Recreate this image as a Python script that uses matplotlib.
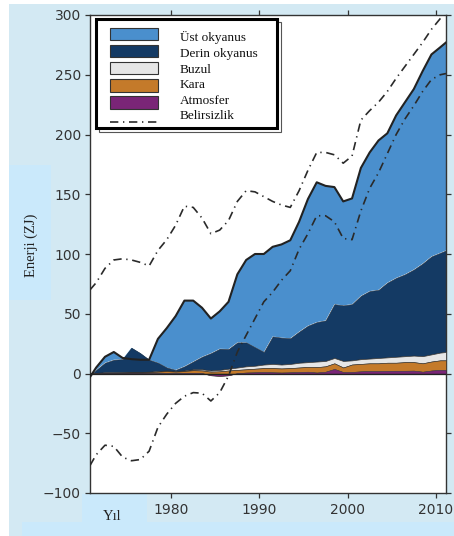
import numpy as np
import matplotlib
matplotlib.use("Agg")
import matplotlib.pyplot as plt
from matplotlib.patches import Rectangle
from matplotlib.lines import Line2D

# ---------------- data ----------------
years = [1970.8] + [y + 0.5 for y in range(1971, 2011)] + [2011.15]

atmosfer = [0, 0.1, 0.2, 0.2, 0.2, 0.3, 0.3, 0.3, 0.3, 0.3, 0.3, 0.4, 0.5, 0.3, -1.5, -2, -1.5,
            0.3, 0.8, 1, 1.2, 1, 0.8, 1, 1.2, 1.5, 0.8, 1.5, 3.8, 1.2, 1.3, 1.8, 2, 2, 2.2,
            2.3, 2.3, 2.4, 1.5, 2.5, 3, 3]
kara = [0, 0.2, 0.4, 0.4, 0.5, 0.5, 0.5, 0.7, 1.2, 1.7, 1.2, 1.6, 2.3, 2.2, 3, 3.8, 4,
        2.7, 2.7, 3, 3.3, 3.5, 3.4, 3.5, 3.8, 4, 4.5, 4.5, 4.7, 3.8, 6.2, 6.2, 6.5, 6.5, 6.8,
        6.7, 7.2, 7.1, 7, 7.5, 8, 8]
buzul = [0, 0.2, 0.4, 0.4, 0.3, 0.4, 0.4, 0.5, 0.5, 0.5, 0.5, 0.5, 0.7, 1, 1, 1.2, 1.5,
         2, 2.5, 2.5, 3, 3.5, 3.3, 3.5, 4, 4, 4.7, 4.5, 4.5, 5.5, 3.5, 4, 4, 4.5, 4.5,
         5, 5, 5.5, 6, 6, 6.5, 7]
derin = [-2, 2.5, 8, 10.5, 11, 20.3, 15.8, 10, 7, 2.5, 1, 3.5, 6.5, 10.5, 14.5, 17.7, 16.5,
         21, 20, 15.5, 10.5, 23, 22.5, 21.5, 26, 30.5, 33, 33.9, 45, 46.5, 47, 53, 56.5, 57,
         62.5, 66, 68.5, 72, 77.5, 82, 83.5, 85]
ust = [-1, 2, 5, 6.5, 1, -9.5, -5.5, 0, 20, 33, 45, 55, 51, 41, 29, 31.3, 39.5,
       57, 69, 78, 82, 75, 78, 82, 92, 106, 117, 112.6, 98, 87, 88.5, 107, 116, 125, 125,
       136, 144, 151, 161, 169, 172, 174]
belirsizlik_ust = [70, 76, 88, 95, 96, 95, 93, 90, 103, 112, 124, 140, 139, 130, 117, 120, 128,
                   144, 153, 152, 148, 144, 141, 139, 153, 170, 185, 185, 183, 176, 182, 212,
                   220, 227, 236, 247, 257, 267, 277, 288, 297, 301]
belirsizlik_alt = [-77, -68, -60, -61, -70, -73, -72, -65, -45, -34, -25, -19, -16, -16.5, -23,
                   -16, -2, 18, 32, 46, 60, 68, 78, 86, 104, 117, 132, 132, 127, 113, 112, 136,
                   155, 168, 184, 200, 213, 224, 236, 246, 250, 251]

labels = ["Üst okyanus", "Derin okyanus", "Buzul", "Kara", "Atmosfer", "Belirsizlik"]
xticks = [1980, 1990, 2000, 2010]
yticks = [-100, -50, 0, 50, 100, 150, 200, 250, 300]

c_ust = "#4a8fcd"
c_derin = "#143a64"
c_buzul = "#e6e6e6"
c_kara = "#c47a2a"
c_atm = "#7a2577"
colors = [c_ust, c_derin, c_buzul, c_kara, c_atm]

# ---------------- figure ----------------
W, H = 454, 536
fig = plt.figure(figsize=(W / 100, H / 100), dpi=100, facecolor="white")


def frect(x0, y0, x1, y1, **kw):
    """rectangle in figure pixel coords (origin top-left)"""
    r = Rectangle((x0 / W, 1 - y1 / H), (x1 - x0) / W, (y1 - y0) / H,
                  transform=fig.transFigure, **kw)
    fig.add_artist(r)
    return r


bg = "#d3e9f3"
light = "#cae9fb"
frect(9, 4, 454, 536, facecolor=bg, edgecolor="none", zorder=-10)
frect(9, 165, 51, 300, facecolor=light, edgecolor="none", zorder=-9)
frect(82, 494, 147, 522, facecolor=light, edgecolor="none", zorder=-9)
frect(22, 522, 454, 536, facecolor=light, edgecolor="none", zorder=-9)

ax = fig.add_axes([90 / W, 1 - 493 / H, 356 / W, 478 / H])
ax.set_facecolor("white")

x = np.array(years)
a = np.array(atmosfer)
c1 = a + np.array(kara)
c2 = c1 + np.array(buzul)
c3 = c2 + np.array(derin)
c4 = c3 + np.array(ust)

ax.fill_between(x, c3, c4, facecolor=c_ust, edgecolor="none", zorder=1)
ax.fill_between(x, c2, c3, facecolor=c_derin, edgecolor="#1b2a3a", linewidth=0.4, zorder=2)
ax.fill_between(x, c1, c2, facecolor=c_buzul, edgecolor="#333333", linewidth=0.5, zorder=3)
ax.fill_between(x, a, c1, facecolor=c_kara, edgecolor="#333333", linewidth=0.4, zorder=4)
ax.fill_between(x, 0, a, facecolor=c_atm, edgecolor="#333333", linewidth=0.3, zorder=5)
ax.plot(x, c4, color="#222222", lw=1.5, zorder=6)
ax.axhline(0, color="#222222", lw=0.9, zorder=6)

dd = (0, (5, 2.8, 0.8, 2.8))
ax.plot(x, belirsizlik_ust, color="#2a2a2a", lw=1.2, linestyle=dd, zorder=7)
ax.plot(x, belirsizlik_alt, color="#2a2a2a", lw=1.2, linestyle=dd, zorder=7)

ax.set_xlim(years[0], years[-1])
ax.set_ylim(-100, 300)
ax.set_xticks(xticks)
ax.set_yticks(yticks)
for s in ax.spines.values():
    s.set_color("#333333")
    s.set_linewidth(1.0)
ax.tick_params(direction="out", length=3.5, width=0.9, color="#333333",
               top=True, right=True, labeltop=False, labelright=False,
               labelsize=10, labelcolor="#333333")
ax.tick_params(axis="y", pad=3)
ax.tick_params(axis="x", pad=4)
for t in ax.get_xticklabels() + ax.get_yticklabels():
    t.set_family("DejaVu Sans")

# axis labels (serif, placed in their light boxes)
fig.text(31 / W, 1 - 245 / H, "Enerji (ZJ)", rotation=90, ha="center", va="center",
         family="Liberation Serif", fontsize=10.5, color="#222222")
fig.text(112 / W, 1 - 517 / H, "Yıl", ha="center", va="center",
         family="Liberation Serif", fontsize=10.5, color="#222222")

# ---------------- legend ----------------
frect(99, 22, 281, 131.5, facecolor="none", edgecolor="#555555", linewidth=0.8, zorder=20)
frect(96, 19, 277, 128, facecolor="white", edgecolor="black", linewidth=2.2, zorder=21)
patch_y = [(28.3, 40), (45, 57.3), (61.7, 74), (79, 91.7), (96, 109.3)]
for (y0, y1), col in zip(patch_y, colors):
    frect(110, y0, 158, y1, facecolor=col, edgecolor="#333333", linewidth=0.8, zorder=22)
fig.add_artist(Line2D([110 / W, 158 / W], [1 - 121.7 / H, 1 - 121.7 / H],
                      transform=fig.transFigure, color="#2a2a2a", lw=1.2,
                      linestyle=dd, zorder=22))
baselines = [41, 57, 73, 88.5, 104, 119]
for lab, yb in zip(labels, baselines):
    fig.text(180 / W, 1 - yb / H, lab, ha="left", va="baseline",
             family="Liberation Serif", fontsize=9.5, color="#111111", zorder=23)

fig.savefig("out.png", dpi=100, facecolor="white")
